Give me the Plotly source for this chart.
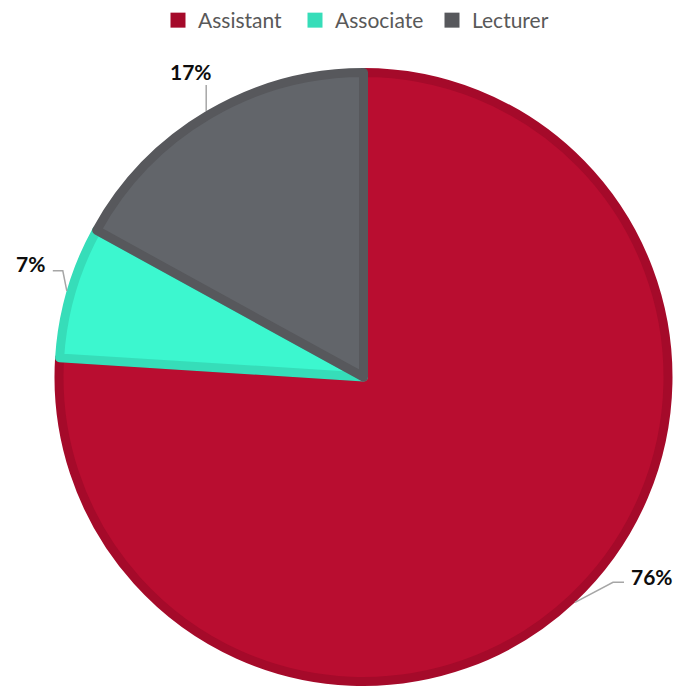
import math
import plotly.graph_objects as go

# Faculty rank distribution (percent)
ranks = ["Assistant", "Associate", "Lecturer"]
shares = [76, 7, 17]

fill_colors = ["#B90D30", "#3CF7CF", "#62656A"]
edge_colors = ["#A50A2A", "#36DDB9", "#57585C"]

# Canvas / plot-area geometry (pixels)
W, H = 677, 687
M_L, M_R, M_T, M_B = 59, 9, 72, 5
PIE_R = (W - M_L - M_R) / 2
EDGE_W = 9
R_OUT = PIE_R + EDGE_W / 2

# Leader-line style per slice: elbow offset, horizontal run, label offset, anchor
# (screen pixels, y pointing down)
leader_style = {
    "Assistant": dict(elbow=(38, -20), run=11, label=(5, -6), anchor="left"),
    "Associate": dict(elbow=(-4, -20), run=-10, label=(-6, -7), anchor="right"),
    "Lecturer": dict(elbow=(0, -26), run=0, label=(-15, -14), anchor="center"),
}

fig = go.Figure()
fig.add_trace(
    go.Pie(
        labels=ranks,
        values=shares,
        sort=False,
        direction="clockwise",
        rotation=0,
        textinfo="none",
        hoverinfo="label+percent",
        showlegend=False,
        marker=dict(colors=fill_colors, line=dict(color=edge_colors, width=EDGE_W)),
        domain=dict(x=[0, 1], y=[0, 1]),
    )
)

# Legend keys: solid square swatches, one per rank
for name, col in zip(ranks, edge_colors):
    fig.add_trace(go.Scatter(
        x=[None], y=[None], mode="markers", name=name,
        marker=dict(symbol="square", size=15, color=col),
        hoverinfo="skip",
    ))

total = sum(shares)
shapes = []
annotations = []
cum = 0
for name, v in zip(ranks, shares):
    mid = (cum + v / 2) / total * 2 * math.pi
    cum += v
    # edge point, screen coords relative to pie centre
    ex = R_OUT * math.sin(mid)
    ey = -R_OUT * math.cos(mid)
    st = leader_style[name]
    bx, by = ex + st["elbow"][0], ey + st["elbow"][1]
    hx, hy = bx + st["run"], by
    path = f"M{ex:.1f},{-ey:.1f} L{bx:.1f},{-by:.1f} L{hx:.1f},{-hy:.1f}"
    shapes.append(dict(
        type="path", path=path,
        xref="paper", yref="paper", xanchor=0.5, yanchor=0.5,
        xsizemode="pixel", ysizemode="pixel",
        line=dict(color="#A6A6A6", width=1.5),
    ))
    lx, ly = hx + st["label"][0], hy + st["label"][1]
    annotations.append(dict(
        text=f"<b>{round(v / total * 100)}%</b>",
        xref="paper", yref="paper", x=0.5, y=0.5,
        xshift=lx, yshift=-ly,
        xanchor=st["anchor"], yanchor="middle",
        showarrow=False,
        font=dict(family="Lato", size=21, color="#0D0D0D"),
    ))

fig.update_layout(
    width=W, height=H,
    margin=dict(l=M_L, r=M_R, t=M_T, b=M_B),
    paper_bgcolor="white",
    plot_bgcolor="white",
    xaxis=dict(visible=False),
    yaxis=dict(visible=False),
    shapes=shapes,
    annotations=annotations,
    legend=dict(
        orientation="h",
        x=0.5, xanchor="center",
        yref="container", y=1.0, yanchor="top",
        font=dict(family="Lato", size=21, color="#595959"),
        itemwidth=30,
        entrywidth=92,
    ),
)

fig.write_html("out.html")
